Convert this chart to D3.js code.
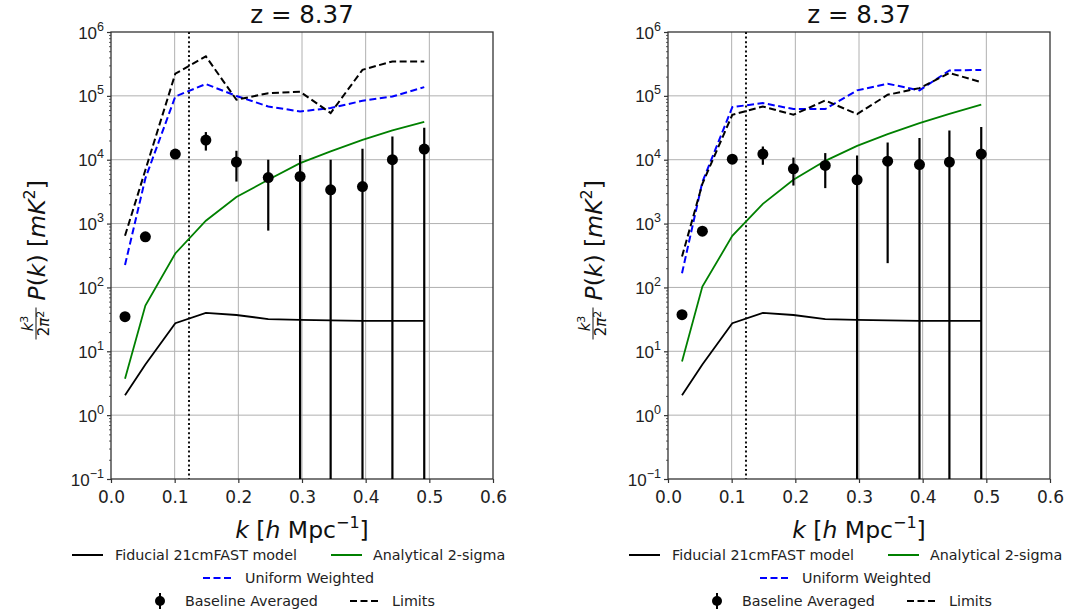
<!DOCTYPE html>
<html>
<head>
<meta charset="utf-8">
<script src="https://cdn.jsdelivr.net/npm/d3@7"></script>
<style>
  body { margin: 0; background: #fff; }
  svg { font-family: "DejaVu Sans", sans-serif; }
</style>
</head>
<body>
<svg id="chart" width="1088" height="613"></svg>
<script>
// k bins (h/Mpc) shared by both panels
const kBins = [0.022, 0.054, 0.101, 0.149, 0.197, 0.247, 0.297, 0.345, 0.395, 0.442, 0.492];
const kCut = 0.1225;
const xTicks = [0.0, 0.1, 0.2, 0.3, 0.4, 0.5, 0.6];
const yDecades = [-1, 0, 1, 2, 3, 4, 5, 6];
const title = 'z = 8.37';

// fiducial 21cmFAST model (same in both panels)
const fiducial = [2.05, 6.2, 27.5, 40, 37, 32, 31, 30.5, 30, 30, 30];

// left panel
const analyticA = [3.7, 52, 340, 1110, 2600, 4850, 8850, 13500, 20500, 28700, 39300];
const uniformA = [225, 5100, 97800, 153000, 99600, 68200, 57000, 64400, 83700, 97700, 137000];
const limitsA = [645, 6900, 222000, 415000, 86900, 110000, 116000, 53700, 256000, 346000, 346000];
const baselineA = [34.8, 619, 12250, 20300, 9170, 5260, 5460, 3375, 3800, 10000, 14700];
const errHiA = [35, 625, 12400, 27100, 13800, 10000, 11800, 10000, 14800, 23100, 31600];
const errLoA = [34.6, 613, 12100, 13900, 4550, 776, null, null, null, null, null]; // null = below axis

// right panel
const analyticB = [6.9, 103, 641, 2040, 4840, 9610, 16500, 25200, 37500, 52400, 72600];
const uniformB = [167, 4500, 66600, 77100, 62100, 62100, 122000, 155000, 122000, 250000, 255000];
const limitsB = [304, 4200, 50600, 68200, 50600, 84700, 51800, 104000, 132000, 228000, 164000];
const baselineB = [37.5, 760, 10200, 12250, 7200, 8130, 4840, 9500, 8410, 9170, 12250];
const errHiB = [37.8, 770, 10400, 16100, 10800, 12700, 11600, 18600, 21800, 28700, 32400];
const errLoB = [37.2, 750, 10000, 8320, 3940, 3590, null, 240, null, null, null];

const svg = d3.select('#chart');

const plotW = 382;
const plotTop = 32;
const plotBottom = 479;

const panels = [
    {left: 111, analytic: analyticA, uniform: uniformA, limits: limitsA, baseline: baselineA, hi: errHiA, lo: errLoA},
    {left: 668, analytic: analyticB, uniform: uniformB, limits: limitsB, baseline: baselineB, hi: errHiB, lo: errLoB}
];

function drawPanel(p, idx) {
    const x = d3.scaleLinear([0, 0.6], [p.left, p.left + plotW]);
    const y = d3.scaleLog([0.1, 1e6], [plotBottom, plotTop]);
    const g = svg.append('g');

    // grid
    g.append('g').selectAll('line')
        .data(xTicks.slice(1, -1))
        .join('line')
        .attr('x1', d => x(d)).attr('x2', d => x(d))
        .attr('y1', plotTop).attr('y2', plotBottom)
        .attr('stroke', '#b0b0b0').attr('stroke-width', 1);
    g.append('g').selectAll('line')
        .data(yDecades.slice(1, -1))
        .join('line')
        .attr('x1', x(0)).attr('x2', x(0.6))
        .attr('y1', d => y(Math.pow(10, d))).attr('y2', d => y(Math.pow(10, d)))
        .attr('stroke', '#b0b0b0').attr('stroke-width', 1);

    // x axis
    const xAxis = g.append('g')
        .attr('transform', `translate(0,${plotBottom})`)
        .call(d3.axisBottom(x).tickValues(xTicks).tickFormat(d3.format('.1f')).tickSize(4).tickPadding(8));
    xAxis.select('.domain').remove();
    xAxis.selectAll('.tick line').attr('stroke', '#333').attr('stroke-width', 1.2);
    xAxis.selectAll('.tick text').attr('fill', '#222').style('font-size', '17px').style('font-family', 'DejaVu Sans');

    // y minor ticks
    const minors = [];
    for (let e = -1; e < 6; e++) for (let m = 2; m < 10; m++) minors.push(m * Math.pow(10, e));
    const yMinor = g.append('g')
        .attr('transform', `translate(${p.left},0)`)
        .call(d3.axisLeft(y).tickValues(minors).tickFormat('').tickSize(2));
    yMinor.select('.domain').remove();
    yMinor.selectAll('.tick line').attr('stroke', '#333').attr('stroke-width', 0.8);

    // y major ticks with 10^n labels
    const yAxis = g.append('g')
        .attr('transform', `translate(${p.left},0)`)
        .call(d3.axisLeft(y).tickValues(yDecades.map(e => Math.pow(10, e))).tickFormat('').tickSize(4));
    yAxis.select('.domain').remove();
    yAxis.selectAll('.tick line').attr('stroke', '#333').attr('stroke-width', 1.2);
    yAxis.selectAll('.tick').each(function(d) {
        const e = Math.round(Math.log10(d));
        const t = d3.select(this).append('text')
            .attr('x', -7).attr('y', 6)
            .attr('text-anchor', 'end')
            .attr('fill', '#222')
            .style('font-size', '17px');
        t.append('tspan').text('10');
        t.append('tspan').attr('dy', -8).style('font-size', '12.5px').text(e < 0 ? '\u2212' + (-e) : e);
    });

    // frame
    g.append('rect')
        .attr('x', x(0)).attr('y', plotTop)
        .attr('width', x(0.6) - x(0)).attr('height', plotBottom - plotTop)
        .attr('fill', 'none').attr('stroke', '#333').attr('stroke-width', 1.3);

    // clip
    const clipId = 'clip' + idx;
    svg.append('clipPath').attr('id', clipId)
        .append('rect')
        .attr('x', x(0)).attr('y', plotTop)
        .attr('width', x(0.6) - x(0)).attr('height', plotBottom - plotTop);
    const plot = g.append('g').attr('clip-path', `url(#${clipId})`);

    // k cut
    plot.append('line')
        .attr('x1', x(kCut)).attr('x2', x(kCut))
        .attr('y1', plotTop).attr('y2', plotBottom)
        .attr('stroke', '#111').attr('stroke-width', 2)
        .attr('stroke-dasharray', '2,2.6');

    const line = vals => d3.line()
        .x((d, i) => x(kBins[i]))
        .y(d => y(d))(vals);

    plot.append('path').attr('d', line(fiducial))
        .attr('fill', 'none').attr('stroke', '#000').attr('stroke-width', 1.8);
    plot.append('path').attr('d', line(p.analytic))
        .attr('fill', 'none').attr('stroke', '#008000').attr('stroke-width', 1.8);
    plot.append('path').attr('d', line(p.uniform))
        .attr('fill', 'none').attr('stroke', '#0000ff').attr('stroke-width', 2)
        .attr('stroke-dasharray', '7,3.5');
    plot.append('path').attr('d', line(p.limits))
        .attr('fill', 'none').attr('stroke', '#000').attr('stroke-width', 2)
        .attr('stroke-dasharray', '7,3.5');

    // baseline averaged points with errorbars
    plot.append('g').selectAll('line')
        .data(kBins)
        .join('line')
        .attr('x1', d => x(d)).attr('x2', d => x(d))
        .attr('y1', (d, i) => y(p.hi[i]))
        .attr('y2', (d, i) => p.lo[i] == null ? plotBottom + 2 : y(p.lo[i]))
        .attr('stroke', '#000').attr('stroke-width', 2.2);
    plot.append('g').selectAll('circle')
        .data(kBins)
        .join('circle')
        .attr('cx', d => x(d))
        .attr('cy', (d, i) => y(p.baseline[i]))
        .attr('r', 5.5)
        .attr('fill', '#000');

    // title
    svg.append('text')
        .attr('x', (x(0) + x(0.6)) / 2).attr('y', 23)
        .attr('text-anchor', 'middle')
        .attr('fill', '#111')
        .style('font-size', '24.5px')
        .text(title);

    // x label
    const xl = svg.append('text')
        .attr('x', (x(0) + x(0.6)) / 2).attr('y', 538)
        .attr('text-anchor', 'middle')
        .attr('fill', '#111')
        .style('font-size', '23.5px');
    xl.append('tspan').style('font-style', 'italic').text('k');
    xl.append('tspan').text(' [');
    xl.append('tspan').style('font-style', 'italic').text('h');
    xl.append('tspan').text(' Mpc');
    xl.append('tspan').attr('dy', -10).style('font-size', '16px').text('\u22121');
    xl.append('tspan').attr('dy', 10).text(']');

    // y label
    const cx = p.left - 75;
    const cy = (plotTop + plotBottom) / 2;
    const yl = svg.append('g')
        .attr('transform', `translate(${cx},${cy}) rotate(-90)`)
        .attr('fill', '#111');
    const fx = -68;
    const num = yl.append('text').attr('x', fx).attr('y', -3.5)
        .attr('text-anchor', 'middle').style('font-size', '15px');
    num.append('tspan').style('font-style', 'italic').text('k');
    num.append('tspan').attr('dy', -5).style('font-size', '11px').text('3');
    yl.append('line')
        .attr('x1', fx - 16).attr('x2', fx + 16)
        .attr('y1', 0).attr('y2', 0)
        .attr('stroke', '#111').attr('stroke-width', 1);
    const den = yl.append('text').attr('x', fx).attr('y', 12.5)
        .attr('text-anchor', 'middle').style('font-size', '15px');
    den.append('tspan').text('2');
    den.append('tspan').style('font-style', 'italic').text('\u03c0');
    den.append('tspan').attr('dy', -5).style('font-size', '11px').text('2');
    const main = yl.append('text').attr('x', -45).attr('y', 9)
        .style('font-size', '23.5px');
    main.append('tspan').style('font-style', 'italic').text('P');
    main.append('tspan').text('(');
    main.append('tspan').style('font-style', 'italic').text('k');
    main.append('tspan').text(') [');
    main.append('tspan').style('font-style', 'italic').text('mK');
    main.append('tspan').attr('dy', -10).style('font-size', '16px').text('2');
    main.append('tspan').attr('dy', 10).text(']');

    // legend
    const L = p.left;
    const leg = svg.append('g').style('font-size', '14.3px').attr('fill', '#222');
    const rows = [555, 578, 601];
    const seg = (x1, x2, yy, color, dash) => leg.append('line')
        .attr('x1', x1).attr('x2', x2).attr('y1', yy).attr('y2', yy)
        .attr('stroke', color).attr('stroke-width', 2)
        .attr('stroke-dasharray', dash);
    const label = (xx, yy, txt) => leg.append('text')
        .attr('x', xx).attr('y', yy).attr('dy', '0.35em').text(txt);

    seg(L - 39, L - 8, rows[0], '#000', null);
    label(L + 4, rows[0], 'Fiducial 21cmFAST model');
    seg(L + 220, L + 251, rows[0], '#008000', null);
    label(L + 262, rows[0], 'Analytical 2-sigma');

    seg(L + 92, L + 123, rows[1], '#0000ff', '7,3.5');
    label(L + 134, rows[1], 'Uniform Weighted');

    leg.append('line')
        .attr('x1', L + 49).attr('x2', L + 49)
        .attr('y1', rows[2] - 8).attr('y2', rows[2] + 8)
        .attr('stroke', '#000').attr('stroke-width', 2);
    leg.append('circle').attr('cx', L + 49).attr('cy', rows[2]).attr('r', 5).attr('fill', '#000');
    label(L + 74, rows[2], 'Baseline Averaged');
    seg(L + 239, L + 270, rows[2], '#000', '7,3.5');
    label(L + 281, rows[2], 'Limits');
}

panels.forEach(drawPanel);
</script>
</body>
</html>
